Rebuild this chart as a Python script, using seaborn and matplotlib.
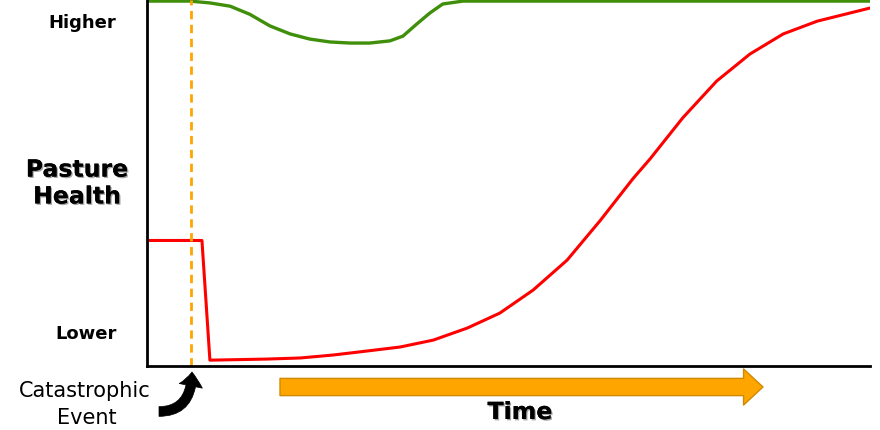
import matplotlib
matplotlib.use("Agg")
import matplotlib.pyplot as plt
import matplotlib.patheffects as pe
import seaborn as sns
import pandas as pd

# ---- data (time 0-100, pasture health 0-100) ----
red_time = [0, 7.6, 8.7, 16.6, 21.2, 25.7, 30.4, 35.0, 39.6, 44.3, 48.8, 53.4,
            58.1, 62.7, 67.2, 69.6, 74.1, 78.8, 83.4, 88.0, 92.7, 100]
red_health = [34.4, 34.4, 1.6, 1.9, 2.2, 3.0, 4.1, 5.2, 7.1, 10.4, 14.5, 20.8,
              29.0, 39.9, 51.3, 56.8, 68.0, 78.1, 85.5, 91.0, 94.5, 98.1]

green_time = [0, 5.9, 8.7, 11.5, 14.2, 17.0, 19.8, 22.5, 25.3, 28.1, 30.8, 33.6,
              35.4, 37.3, 39.1, 40.9, 43.7, 100]
green_health = [100, 100, 99.5, 98.6, 96.4, 93.2, 91.0, 89.6, 88.8, 88.5, 88.5, 89.1,
                90.4, 93.7, 96.7, 99.2, 100, 100]

event_time = 6.1
y_ticks = [94.5, 9.3]
y_tick_labels = ["Higher", "Lower"]

red_df = pd.DataFrame({"time": red_time, "health": red_health})
green_df = pd.DataFrame({"time": green_time, "health": green_health})

sns.set_style("white")
plt.rcParams["font.family"] = ["DejaVu Sans"]
plt.rcParams["text.color"] = "black"
plt.rcParams["axes.labelcolor"] = "black"
plt.rcParams["ytick.color"] = "black"

fig = plt.figure(figsize=(8.8, 4.3), dpi=100)
W, H = 880, 430
ax = fig.add_axes([147 / W, (H - 366) / H, (870 - 147) / W, 366 / H])

sns.lineplot(data=green_df, x="time", y="health", ax=ax, color="#3F8F0A", lw=2.4,
             estimator=None, sort=False)
sns.lineplot(data=red_df, x="time", y="health", ax=ax, color="#FF0000", lw=2.2,
             estimator=None, sort=False)
ax.axvline(event_time, color="#FFA500", lw=2, ls=(0, (3, 2)))

ax.set_xlim(0, 100)
ax.set_ylim(0, 100.3)
for s in ["top", "right"]:
    ax.spines[s].set_visible(False)
for s in ["left", "bottom"]:
    ax.spines[s].set_color("black")
    ax.spines[s].set_linewidth(2)

ax.set_xticks([])
ax.set_yticks(y_ticks)
ax.set_yticklabels(y_tick_labels, fontsize=13, fontweight="semibold", color="black")
ax.tick_params(axis="y", length=0, pad=22)

shadow = [pe.withSimplePatchShadow(offset=(1, -1), alpha=0.35), pe.Normal()]
ax.set_ylabel("Pasture\nHealth", rotation=0, fontsize=17, fontweight="bold",
              ha="center", va="center", linespacing=1.15, path_effects=shadow, color="black")
ax.yaxis.set_label_coords((77 - 147) / 723, (366 - 183) / 366)

ax.set_xlabel("Time", fontsize=17, fontweight="bold", path_effects=shadow, va="center",
              color="black")
ax.xaxis.set_label_coords((520 - 147) / 723, -46 / 366)

fig.text(85 / W, 1 - 391 / H, "Catastrophic", fontsize=15, ha="center", va="center",
         color="black")
fig.text(87 / W, 1 - 418 / H, "Event", fontsize=15, ha="center", va="center",
         color="black")

# orange time arrow
ax.annotate("", xy=(763, H - 387), xytext=(280, H - 387),
            xycoords="figure pixels", textcoords="figure pixels", annotation_clip=False,
            arrowprops=dict(arrowstyle="simple,head_width=1.3,head_length=0.7,tail_width=0.62",
                            mutation_scale=20, fc="#FFA500", ec="#D08A00", lw=1,
                            shrinkA=0, shrinkB=0))

# black curved arrow to event
ax.annotate("", xy=(192, H - 372), xytext=(159, H - 411.5),
            xycoords="figure pixels", textcoords="figure pixels", annotation_clip=False,
            arrowprops=dict(arrowstyle="simple,head_width=1.7,head_length=1.0,tail_width=0.7",
                            mutation_scale=10, fc="black", ec="black", lw=0.5,
                            shrinkA=0, shrinkB=0,
                            connectionstyle="angle3,angleA=0,angleB=90"))

fig.savefig("out.png", dpi=100)
